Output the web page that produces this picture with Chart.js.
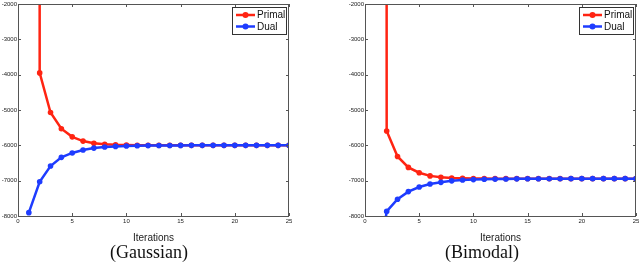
<!DOCTYPE html>
<html lang="en">
<head>
  <meta charset="UTF-8">
  <title>Primal / Dual convergence</title>
  <script src="https://cdn.jsdelivr.net/npm/chart.js"></script>
  <style>
    * { margin: 0; padding: 0; box-sizing: border-box; }
    body { width: 640px; height: 262px; background: #fff; position: relative; overflow: hidden; }
    .plot { position: absolute; top: 0; width: 320px; height: 245px; }
    .caption {
      position: absolute; top: 242px;
      font-family: 'Liberation Serif', 'DejaVu Serif', serif;
      font-size: 18px; line-height: 20px; color: #111;
      transform: translateX(-50%); white-space: nowrap;
    }
  </style>
</head>
<body>

  <div class="plot" style="left:0"><canvas id="gauss"></canvas></div>
  <div class="plot" style="left:320px"><canvas id="bimodal"></canvas></div>
  <div class="caption" style="left:149px">(Gaussian)</div>
  <div class="caption" style="left:482px">(Bimodal)</div>

  <script>
    // iterations 1..25
    const iterations = Array.from({length: 25}, (_, i) => i + 1);
    const xTicks = [0, 5, 10, 15, 20, 25];
    const yTicks = [-8000, -7000, -6000, -5000, -4000, -3000, -2000];

    // Gaussian (primal at iteration 1 is far above the axis)
    const gaussPrimal = [1000000, -3950, -5070, -5530, -5760, -5880, -5940, -5970, -5985, -5993,
      -5997, -5999, -6000, -6000, -6000, -6000, -6000, -6000, -6000, -6000,
      -6000, -6000, -6000, -6000, -6000];
    const gaussDual = [-7905, -7030, -6585, -6340, -6215, -6130, -6078, -6048, -6030, -6020,
      -6013, -6008, -6005, -6003, -6002, -6001, -6000, -6000, -6000, -6000,
      -6000, -6000, -6000, -6000, -6000];

    // Bimodal (primal at iteration 1 far above, dual below the axis)
    const bimodalPrimal = [1000000, -5595, -6315, -6625, -6775, -6865, -6905, -6925, -6935, -6940,
      -6942, -6943, -6943, -6943, -6943, -6943, -6943, -6943, -6943, -6943,
      -6943, -6943, -6943, -6943, -6943];
    const bimodalDual = [-10000, -7870, -7525, -7310, -7180, -7095, -7047, -7005, -6982, -6970,
      -6962, -6956, -6952, -6949, -6947, -6946, -6945, -6944, -6943, -6943,
      -6943, -6943, -6943, -6943, -6943];

    const seriesNames = ['Primal', 'Dual'];
    const colors = ['#ff2412', '#1e3cff'];
    const axisColor = '#555';

    // box frame, inward ticks and matlab style legend
    const matlabBox = {
      id: 'matlabBox',
      afterDraw(chart) {
        const c = chart.ctx, a = chart.chartArea;
        const xs = chart.scales.x, ys = chart.scales.y;
        c.save();
        c.strokeStyle = axisColor;
        c.lineWidth = 1;
        c.strokeRect(Math.round(a.left) + 0.5, Math.round(a.top) + 0.5,
          Math.round(a.right - a.left) - 1, Math.round(a.bottom - a.top));
        c.beginPath();
        xTicks.forEach(v => {
          const px = Math.round(xs.getPixelForValue(v)) + 0.5;
          c.moveTo(px, a.bottom); c.lineTo(px, a.bottom - 3);
          c.moveTo(px, a.top); c.lineTo(px, a.top + 3);
        });
        yTicks.forEach(v => {
          const py = Math.round(ys.getPixelForValue(v)) + 0.5;
          c.moveTo(a.left, py); c.lineTo(a.left + 3, py);
          c.moveTo(a.right, py); c.lineTo(a.right - 3, py);
        });
        c.stroke();

        // legend
        const bx = a.right - 57, by = a.top + 3, bw = 54, bh = 27;
        c.fillStyle = '#fff';
        c.fillRect(bx, by, bw, bh);
        c.strokeStyle = '#333';
        c.strokeRect(bx + 0.5, by + 0.5, bw, bh);
        c.font = '10px "Liberation Sans", Arial, sans-serif';
        c.textBaseline = 'middle';
        chart.data.datasets.slice().sort((p, q) => p.legendPos - q.legendPos).forEach((ds, i) => {
          const ly = by + 8 + i * 11.5;
          c.strokeStyle = ds.borderColor;
          c.lineWidth = 2.5;
          c.beginPath(); c.moveTo(bx + 4, ly); c.lineTo(bx + 23, ly); c.stroke();
          c.fillStyle = ds.borderColor;
          c.beginPath(); c.arc(bx + 13.5, ly, 3, 0, Math.PI * 2); c.fill();
          c.fillStyle = '#111';
          c.fillText(ds.label, bx + 25, ly + 0.5);
        });
        c.restore();
      }
    };

    function makeChart(id, primal, dual, yAxisWidth, padRight) {
      const tickFont = { family: '"Liberation Sans", Arial, sans-serif', size: 6 };
      return new Chart(document.getElementById(id), {
        type: 'line',
        data: {
          labels: iterations,
          datasets: [
            { label: seriesNames[1], data: dual, borderColor: colors[1], backgroundColor: colors[1],
              borderWidth: 2.5, pointRadius: 2.8, pointBorderWidth: 0, tension: 0, legendPos: 1 },
            { label: seriesNames[0], data: primal, borderColor: colors[0], backgroundColor: colors[0],
              borderWidth: 2.5, pointRadius: 2.8, pointBorderWidth: 0, tension: 0, legendPos: 0 }
          ]
        },
        options: {
          responsive: true,
          maintainAspectRatio: false,
          animation: false,
          layout: { padding: { top: 3, right: padRight, left: 0, bottom: 0 } },
          plugins: { legend: { display: false }, tooltip: { enabled: false } },
          scales: {
            x: {
              type: 'linear', min: 0, max: 25,
              afterBuildTicks: s => { s.ticks = xTicks.map(v => ({ value: v })); },
              afterFit: s => { s.height = 29; s.paddingLeft = 0; s.paddingRight = 0; },
              grid: { display: false, drawTicks: false },
              border: { display: false },
              ticks: { font: tickFont, color: '#222', padding: 2, maxRotation: 0 },
              title: { display: true, text: 'Iterations', color: '#222', padding: { top: 1, bottom: 1 },
                font: { family: '"Liberation Sans", Arial, sans-serif', size: 10 } }
            },
            y: {
              min: -8000, max: -2000,
              afterBuildTicks: s => { s.ticks = yTicks.map(v => ({ value: v })); },
              afterFit: s => { s.width = yAxisWidth; s.paddingTop = 0; s.paddingBottom = 0; },
              grid: { display: false, drawTicks: false },
              border: { display: false },
              ticks: { font: tickFont, color: '#222', padding: 1, callback: v => String(v) }
            }
          }
        },
        plugins: [matlabBox]
      });
    }

    makeChart('gauss', gaussPrimal, gaussDual, 18, 31);
    makeChart('bimodal', bimodalPrimal, bimodalDual, 45, 3);
  </script>

</body>
</html>
